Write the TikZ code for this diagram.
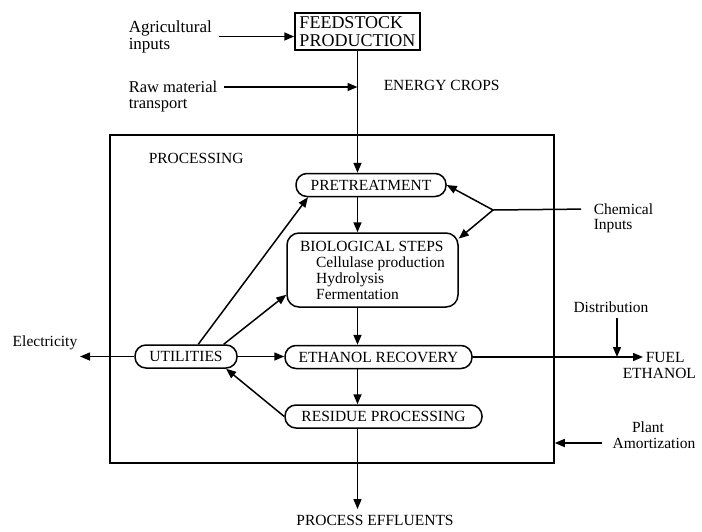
\documentclass[tikz,border=0pt]{standalone}
\usepackage{fontspec}
\setmainfont{Liberation Serif}
\usetikzlibrary{arrows.meta, positioning, calc}

\begin{document}
\begin{tikzpicture}[x=1pt, y=-1pt, line width=1.5pt,
    >={Triangle[length=10pt, width=8pt]},
    font=\fontsize{15.5}{16}\selectfont,
    lbl/.style={inner sep=2pt, align=left},
    stage/.style={draw, rounded corners=11pt, inner sep=0pt, minimum height=23pt}]
\useasboundingbox (0,0) rectangle (702,531);

% ---- Feedstock ----------------------------------------------------------
\node[draw, inner sep=1pt, align=left, minimum width=125, minimum height=37,
      font=\fontsize{18}{18}\selectfont] (feed) at (357.5,31.5) {FEEDSTOCK\\PRODUCTION};
\node[lbl, anchor=west, font=\fontsize{17}{17}\selectfont] (agri) at (126,36.5) {Agricultural\\inputs};
\node[lbl, anchor=west, font=\fontsize{16.5}{17}\selectfont] (raw) at (126,87) {Raw material};
\node[lbl, anchor=west, font=\fontsize{16.5}{17}\selectfont] (rawb) at (126,106) {transport};
\node[lbl, anchor=west] (crops) at (381,85) {ENERGY CROPS};

% ---- Processing box -----------------------------------------------------
\node[draw, inner sep=0pt, minimum width=444, minimum height=328] (proc) at (332,299) {};
\node[lbl, anchor=west] (proclbl) at (146,158) {PROCESSING};

\node[stage, minimum width=150] (pre) at (371,185) {PRETREATMENT};
\node[stage, rounded corners=12pt, minimum width=171, minimum height=74, align=left] (bio) at (372.5,270)
     {BIOLOGICAL STEPS\\\hspace*{16pt}Cellulase production\\\hspace*{16pt}Hydrolysis\\\hspace*{16pt}Fermentation};
\node[stage, minimum width=102] (util) at (186,356.5) {UTILITIES};
\node[stage, minimum width=187] (eth) at (378.5,357) {ETHANOL RECOVERY};
\node[stage, minimum width=197] (res) at (383.5,416.5) {RESIDUE PROCESSING};

% ---- Outside labels -----------------------------------------------------
\node[lbl] (elec) at (45,343) {Electricity};
\node[lbl, anchor=west] (chem) at (591,209) {Chemical};
\node[lbl, anchor=west] (chemb) at (591,226) {Inputs};
\node[lbl] (dist) at (611,307) {Distribution};
\node[lbl, anchor=west] (fuel) at (643,357) {FUEL};
\node[lbl, anchor=west] (fuelb) at (620,373) {ETHANOL};
\node[lbl] (plant) at (648,427) {Plant};
\node[lbl] (amort) at (654,443) {Amortization};
\node[lbl, inner sep=5pt] (effl) at (375,520) {PROCESS EFFLUENTS};
\coordinate (cj) at (493,210);
\coordinate (dtop) at ($(dist.south)+(6,3)$);

% ---- Flows --------------------------------------------------------------
\draw[->] (agri.east) ++(4,0) -- (agri.east -| feed.west);
\draw[->] (raw.east) ++(4,0) -- (raw.east -| feed.south);
\draw[->] (feed.south) -- (feed.south |- pre.north);
\draw[->] (pre.south -| feed.south) -- (bio.north -| feed.south);
\draw[->] (bio.south -| feed.south) -- (eth.north -| feed.south);
\draw[->] (eth.south -| feed.south) -- (res.north -| feed.south);
\draw[->] (res.south -| feed.south) -- (effl.north -| feed.south);

\draw[->] (util.45) -- (pre.191);
\draw[->] (util.18) -- (bio.196);
\draw[->] (util.east) -- (util.east -| eth.west);
\draw[->] (res.west) -- (util.-17);
\draw[->] (util.west) -- (util.west -| elec.east);

\draw[shorten <=10pt] (chem.west) -- (cj);
\draw[->] (cj) -- (pre.east);
\draw[->] (cj) -- (bio.20);

\draw[->] (eth.east) -- (fuel.west);
\draw[->] (dtop) -- (dtop |- eth.east);
\draw[->, shorten <=8pt] (amort.west) -- (amort.west -| proc.east);

\end{tikzpicture}
\end{document}
